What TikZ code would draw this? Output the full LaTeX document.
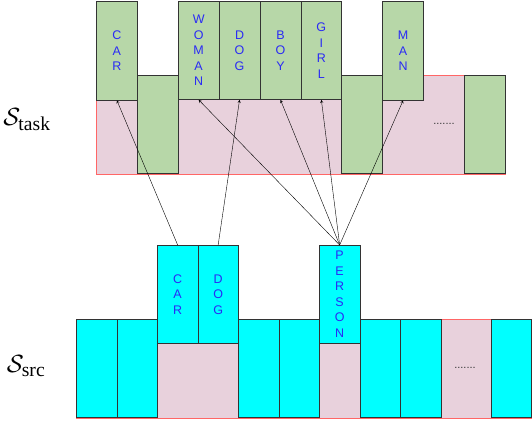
\documentclass[tikz,border=0pt]{standalone}
\usepackage{amsmath}
\usepackage{fontspec}
\setmainfont{Liberation Serif}
\newfontfamily\cellfont{Liberation Sans}
\definecolor{tgtgreen}{HTML}{B7D7A8}
\definecolor{srccyan}{RGB}{0,255,255}
\definecolor{bgpink}{HTML}{E8D1DC}
\definecolor{wordblue}{HTML}{2A2AF5}
\tikzset{
	cell/.style={draw=black!80,line width=0.8pt,anchor=north west,minimum width=40.5pt,minimum height=98pt,inner sep=0pt,align=center,text=wordblue,font=\cellfont\fontsize{12.5}{15.5}\selectfont},
	tgt/.style={cell,fill=tgtgreen,minimum width=40.9pt},
	src/.style={cell,fill=srccyan},
	band/.style={draw=red!60,line width=0.8pt,fill=bgpink},
	setname/.style={font=\fontsize{28}{32}\selectfont}
}
\begin{document}
\begin{tikzpicture}[x=1pt,y=-1pt,>=stealth]
	\useasboundingbox (0,0) rectangle (532,420);
	% task row
	\draw[band] (96,75) rectangle (505,174);
	\node[tgt] (tcar) at (96,1.5) {C\\A\\R};
	\node[tgt] (tgapa) at (136.9,75) {};
	\node[tgt] (twoman) at (177.8,1) {W\\O\\M\\A\\N};
	\node[tgt] (tdog) at (218.7,1) {D\\O\\G};
	\node[tgt] (tboy) at (259.6,1) {B\\O\\Y};
	\node[tgt] (tgirl) at (300.5,1) {G\\I\\R\\L};
	\node[tgt] (tgapb) at (341.4,75) {};
	\node[tgt] (tman) at (382.3,1.5) {M\\A\\N};
	\node[font=\cellfont\fontsize{11}{11}\selectfont,text=black!80] (tdots) at (444,124) {.......};
	\node[tgt] (tgapc) at (464.1,75) {};
	\node[setname] (ltask) at (27,120) {$\mathcal{S}_{\text{task}}$};
	% src row
	\draw[band] (76,319) rectangle (531,418);
	\foreach \k in {0,1,4,5,7,8}
		\node[src] (sgap\k) at (76+40.5*\k,319) {};
	\node[src] (scar) at (157,245) {C\\A\\R};
	\node[src] (sdog) at (197.5,245) {D\\O\\G};
	\node[src] (sperson) at (319,245) {P\\E\\R\\S\\O\\N};
	\node[font=\cellfont\fontsize{11}{11}\selectfont,text=black!80] (sdots) at (465,368) {.......};
	\node[src] (slast) at (490.5,319) {};
	\node[setname] (lsrc) at (26,366) {$\mathcal{S}_{\text{src}}$};
	% transfer
	\draw[->] (scar.north) -- (tcar.south);
	\draw[->] (sdog.north) -- (tdog.south);
	\foreach \t in {twoman,tboy,tgirl,tman}
		\draw[->] (sperson.north) -- (\t.south);
\end{tikzpicture}
\end{document}
